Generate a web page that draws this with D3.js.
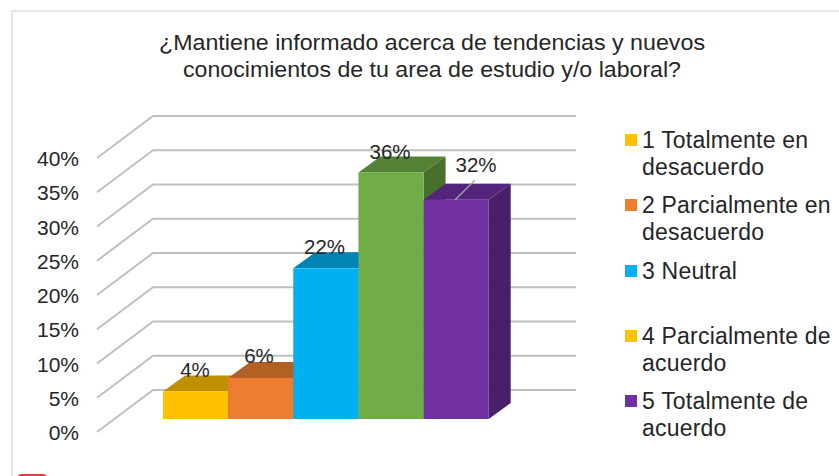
<!DOCTYPE html>
<html>
<head>
<meta charset="utf-8">
<script src="https://cdn.jsdelivr.net/npm/d3@7"></script>
<style>
html, body { margin: 0; padding: 0; background: #fff; }
svg { display: block; }
text { font-family: "Liberation Sans", Arial, sans-serif; fill: #262626; }
</style>
</head>
<body>
<div id="content"></div>
<script>
var categories = ["1", "2", "3", "4", "5"];
var values = [4, 6, 22, 36, 32];
var valueLabels = ["4%", "6%", "22%", "36%", "32%"];
var tickValues = [0, 5, 10, 15, 20, 25, 30, 35, 40];
var frontColors = ["#ffc000", "#ed7d31", "#00b0f0", "#70ad47", "#7030a0"];
var topColors = ["#bf9000", "#b26024", "#0084b4", "#548235", "#54247a"];
var sideColors = ["#a67d00", "#9a5320", "#00739e", "#47702d", "#482068"];
var legendColors = ["#ffc000", "#ed7d31", "#00b0f0", "#ffc000", "#7030a0"];
var legendLabels = [
    ["1 Totalmente en", "desacuerdo"],
    ["2 Parcialmente en", "desacuerdo"],
    ["3 Neutral"],
    ["4 Parcialmente de", "acuerdo"],
    ["5 Totalmente de", "acuerdo"]
];
var titleLines = [
    "¿Mantiene informado acerca de tendencias y nuevos",
    "conocimientos de tu area de estudio y/o laboral?"
];

var width = 839, height = 476;

// fake 3d: the walls and the bars are shifted copies of the same y scale
var wallDx = 56, wallDy = -42;
var barDx = 22, barDy = -16;
var floorShift = 29;

var svg = d3.select("#content").append("svg")
    .attr("width", width)
    .attr("height", height);

// card outline
svg.append("path")
    .attr("d", "M12,476V11H839")
    .attr("fill", "none")
    .attr("stroke", "#e6e6e6")
    .attr("stroke-width", 2);

svg.append("g").selectAll("text")
    .data(titleLines)
    .enter().append("text")
    .attr("x", 432)
    .attr("y", function(d, i) { return 50 + i * 27; })
    .attr("text-anchor", "middle")
    .attr("font-size", 22.5)
    .attr("textLength", function(d, i) { return i == 0 ? 546 : 498; })
    .attr("lengthAdjust", "spacingAndGlyphs")
    .text(function(d) { return d; });

var y = d3.scaleLinear().domain([0, 40]).range([390, 116]);
var x = d3.scaleBand().domain(categories).range([163, 488.7]);

var grid = svg.append("g").attr("class", "grid");

grid.selectAll("path")
    .data(tickValues)
    .enter().append("path")
    .attr("d", function(d) {
        return "M97," + (y(d) - wallDy) + "L" + (97 + wallDx) + "," + y(d) + "H576";
    })
    .attr("fill", "none")
    .attr("stroke", "#bfbfbf")
    .attr("stroke-width", 2);

svg.append("g")
    .attr("transform", "translate(79," + (1 - wallDy) + ")")
    .call(d3.axisLeft(y).tickValues(tickValues).tickSize(0).tickPadding(0)
        .tickFormat(function(d) { return d + "%"; }))
    .call(function(g) { g.select(".domain").remove(); })
    .selectAll("text")
    .attr("font-size", 21)
    .attr("dy", "0.32em");

var bars = svg.append("g").selectAll("g")
    .data(values)
    .enter().append("g");

function barTop(d) { return y(d) + floorShift; }

bars.append("path")
    .attr("d", function(d, i) {
        var x0 = x(categories[i]), x1 = x0 + x.bandwidth(), t = barTop(d);
        return "M" + x0 + "," + t + "L" + (x0 + barDx) + "," + (t + barDy) +
            "H" + (x1 + barDx) + "L" + x1 + "," + t + "Z";
    })
    .attr("fill", function(d, i) { return topColors[i]; });

bars.append("path")
    .attr("d", function(d, i) {
        var x1 = x(categories[i]) + x.bandwidth(), t = barTop(d), b = y(0) + floorShift;
        return "M" + x1 + "," + t + "L" + (x1 + barDx) + "," + (t + barDy) +
            "V" + (b + barDy) + "L" + x1 + "," + b + "Z";
    })
    .attr("fill", function(d, i) { return sideColors[i]; });

bars.append("rect")
    .attr("x", function(d, i) { return x(categories[i]); })
    .attr("y", barTop)
    .attr("width", x.bandwidth())
    .attr("height", function(d) { return y(0) + floorShift - barTop(d); })
    .attr("fill", function(d, i) { return frontColors[i]; });

// leader line on the last bar
svg.append("line")
    .attr("x1", 455).attr("y1", 200)
    .attr("x2", 475).attr("y2", 180)
    .attr("stroke", "#a6a6a6")
    .attr("stroke-width", 1.2);

var labelX = [195, 259, 324.5, 390, 476];
var labelY = [377, 363, 254, 159, 172];

svg.append("g").selectAll("text")
    .data(valueLabels)
    .enter().append("text")
    .attr("x", function(d, i) { return labelX[i]; })
    .attr("y", function(d, i) { return labelY[i]; })
    .attr("text-anchor", "middle")
    .attr("font-size", 20.5)
    .text(function(d) { return d; });

var legendY = [140, 205, 271, 336, 401];

var legend = svg.append("g").selectAll("g")
    .data(legendLabels)
    .enter().append("g")
    .attr("transform", function(d, i) { return "translate(0," + legendY[i] + ")"; });

legend.append("rect")
    .attr("x", 625)
    .attr("y", -6)
    .attr("width", 12)
    .attr("height", 12)
    .attr("fill", function(d, i) { return legendColors[i]; });

legend.selectAll("text")
    .data(function(d) { return d; })
    .enter().append("text")
    .attr("x", 642)
    .attr("y", function(d, i) { return 7.5 + i * 27; })
    .attr("font-size", 23)
    .attr("letter-spacing", 0.2)
    .text(function(d) { return d; });

// red corner of the next card, cut off by the edge of the picture
svg.append("rect")
    .attr("x", 17.5).attr("y", 474)
    .attr("width", 29.5).attr("height", 8)
    .attr("rx", 4)
    .attr("fill", "#ee3a3f");
</script>
</body>
</html>
